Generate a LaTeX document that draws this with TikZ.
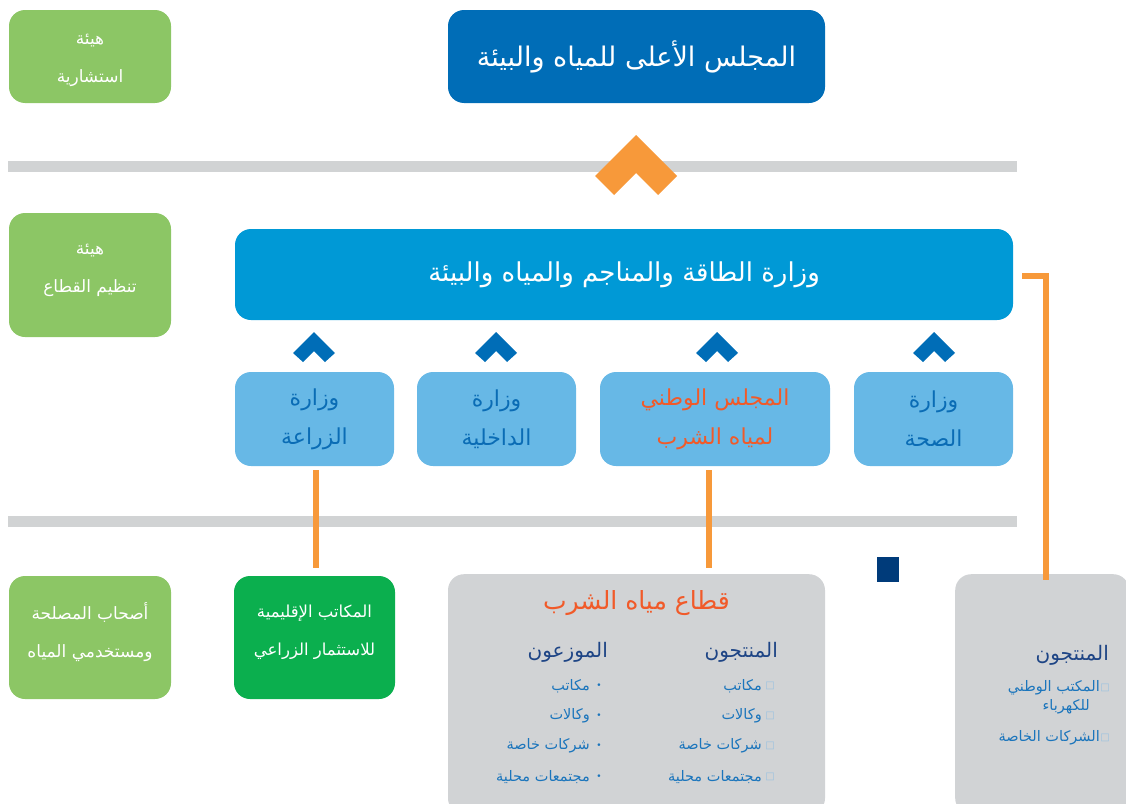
\documentclass[tikz,border=0pt]{standalone}
\usepackage{fontspec}
\TeXXeTstate=1
\newfontfamily\arabicfont[Script=Arabic]{DejaVu Sans}
\newfontfamily\symfont{DejaVu Sans}
\newcommand{\artext}[1]{{\arabicfont\beginR #1\endR}}
\definecolor{leafgreen}{HTML}{8CC665}
\definecolor{deepgreen}{HTML}{0BAF4E}
\definecolor{royalblue}{HTML}{006DB7}
\definecolor{skyblue}{HTML}{0099D6}
\definecolor{paleblue}{HTML}{67B8E6}
\definecolor{inkblue}{HTML}{0A6CB5}
\definecolor{navy}{HTML}{003B7A}
\definecolor{headnavy}{HTML}{1D4485}
\definecolor{listblue}{HTML}{1B75BC}
\definecolor{railgray}{HTML}{D1D3D4}
\definecolor{boxgray}{HTML}{D1D3D5}
\definecolor{accent}{HTML}{F7993A}
\definecolor{redorange}{HTML}{F15A29}
\begin{document}
\begin{tikzpicture}[x=1pt,y=-1pt,
  box/.style={rounded corners=16pt, minimum width=#1, inner sep=0pt},
  greenbox/.style={box=162pt, fill=leafgreen, minimum height=93pt},
  greentxt/.style={text=white, font=\fontsize{17}{38}\selectfont, align=center, inner sep=0pt},
  unitbox/.style={box=159pt, fill=paleblue, minimum height=94pt, text=inkblue, font=\fontsize{22}{39}\selectfont, align=center},
  conn/.style={draw=accent, line width=6pt},
  rail/.style={draw=railgray, line width=11pt},
  itemtxt/.style={text=listblue, font=\fontsize{14.5}{17}\selectfont, anchor=east, inner sep=0pt},
  headtxt/.style={text=headnavy, font=\fontsize{20}{22}\selectfont, anchor=east, inner sep=0pt},
  tofu/.style={text=listblue!45, font=\symfont\fontsize{10}{10}\selectfont, inner sep=0pt}
]
\useasboundingbox (0,0) rectangle (1126,803);
\clip (0,0) rectangle (1126,803);

% horizontal rails
\draw[rail] (8,166.5) -- (1017,166.5);
\draw[rail] (8,521.5) -- (1017,521.5);

% left column: bodies
\node[greenbox] (adv) at (90,56.5) {};
\node[greentxt] (advtxt) at (90,60) {\artext{هيئة}\\\artext{استشارية}};
\node[greenbox, minimum height=124pt] (reg) at (90,275) {};
\node[greentxt] (regtxt) at (90,270) {\artext{هيئة}\\\artext{تنظيم القطاع}};
\node[greenbox, minimum height=123pt] (stake) at (90,637.5) {};
\node[greentxt] (staketxt) at (90,632) {\artext{أصحاب المصلحة}\\\artext{ومستخدمي المياه}};

% top council
\node[box=377pt, fill=royalblue, minimum height=93pt, text=white, font=\fontsize{27}{30}\selectfont] (council) at (636.5,56.5) {\artext{المجلس الأعلى للمياه والبيئة}};

% orange chevron
\fill[accent] (636,135) -- (677,176) -- (658,195) -- (636,173) -- (614,195) -- (595,176) -- cycle;

% ministry
\node[box=778pt, fill=skyblue, minimum height=91pt, text=white, font=\fontsize{26}{30}\selectfont] (mem) at (624,274.5) {\artext{وزارة الطاقة والمناجم والمياه والبيئة}};

% sector units
\node[unitbox] (agri) at (314.5,419) {\artext{وزارة}\\\artext{الزراعة}};
\node[unitbox] (inter) at (496.5,419) {\artext{وزارة}\\\artext{الداخلية}};
\node[unitbox, minimum width=230pt, text=redorange] (cnep) at (715,419) {\artext{المجلس الوطني}\\\artext{لمياه الشرب}};
\node[unitbox] (health) at (933.5,419) {\artext{وزارة}\\\artext{الصحة}};

% small chevrons above the units
\foreach \cx in {314,496,717,934}
  \fill[royalblue] (\cx,332) -- (\cx+21,353) -- (\cx+11,362) -- (\cx,351) -- (\cx-11,362) -- (\cx-21,353) -- cycle;

% regional agricultural offices
\node[box=161pt, fill=deepgreen, minimum height=123pt] (ormva) at (314.5,637.5) {};
\node[greentxt, font=\fontsize{16.5}{38}\selectfont] (ormvatxt) at (314.5,632) {\artext{المكاتب الإقليمية}\\\artext{للاستثمار الزراعي}};

% drinking water sector
\node[box=377pt, fill=boxgray, minimum height=240pt, anchor=north] (dw) at (636.5,574) {};
\node[text=redorange, font=\fontsize{25}{28}\selectfont, inner sep=0pt] (dwtitle) at (636.5,603) {\artext{قطاع مياه الشرب}};
\node[headtxt] (prod) at (778,652) {\artext{المنتجون}};
\node[headtxt] (dist) at (608,652) {\artext{الموزعون}};
\foreach \y/\t [count=\i] in {686/مكاتب, 716/وكالات, 746/شركات خاصة, 777/مجتمعات محلية}{
  \node[itemtxt] (p\i) at (762,\y) {\artext{\t}};
  \node[tofu] at (770,\y) {□};
  \node[itemtxt] (d\i) at (590,\y) {\artext{\t}};
  \node[text=listblue, font=\symfont\fontsize{9}{9}\selectfont, inner sep=0pt] at (599,\y) {•};
}

% independent producers
\node[box=174pt, fill=boxgray, minimum height=240pt, anchor=north west] (indep) at (955,574) {};
\node[headtxt] (prod2) at (1109,655) {\artext{المنتجون}};
\node[itemtxt, align=right] (onee) at (1100,697) {\artext{المكتب الوطني}\\[2pt]\artext{للكهرباء}\hspace*{10pt}};
\node[tofu] at (1105,688) {□};
\node[itemtxt] (priv) at (1100,738) {\artext{الشركات الخاصة}};
\node[tofu] at (1105,738) {□};

% navy marker
\fill[navy] (877,557) rectangle (899,582);

% connectors
\draw[conn, shorten <=4pt, shorten >=8pt] (agri.south -| 316,0) -- (ormva.north -| 316,0);
\draw[conn, shorten <=4pt, shorten >=6pt] (cnep.south -| 709,0) -- (dw.north -| 709,0);
\coordinate (elbow) at (1046,276);
\draw[conn] ([xshift=9pt]mem.east |- elbow) -- (elbow) -- ([yshift=-6pt]elbow |- indep.north);
\end{tikzpicture}
\end{document}
